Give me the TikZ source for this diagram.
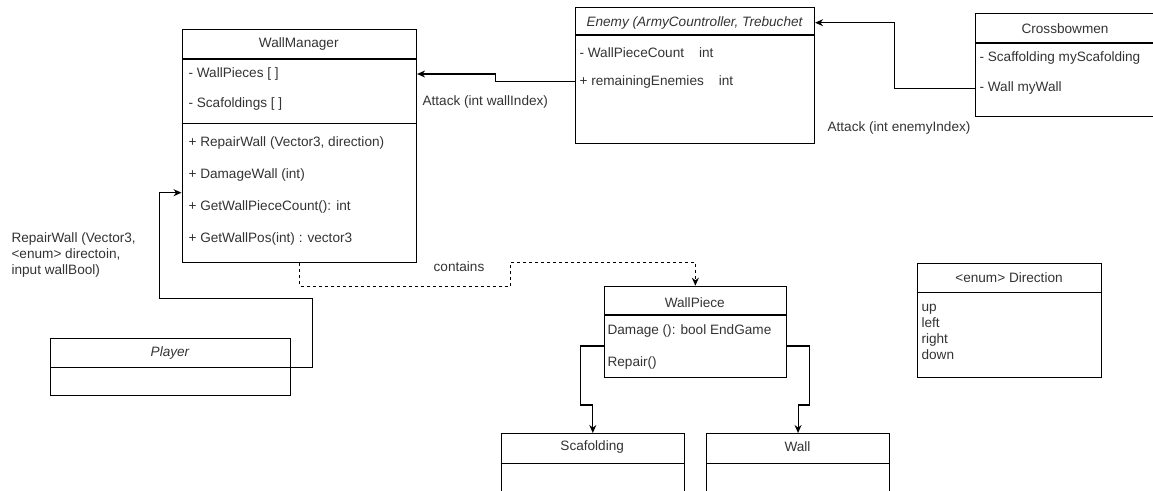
\documentclass[tikz,border=0pt]{standalone}
\usepackage{fontspec}
\setmainfont{Liberation Sans}
\usetikzlibrary{arrows.meta}

\begin{document}
\begin{tikzpicture}[x=1pt, y=-1pt, line width=1.1pt,
  font=\fontsize{13.6}{16}\selectfont,
  box/.style={draw, anchor=north west, inner sep=0pt},
  ttl/.style={inner sep=0pt, text=black!80},
  row/.style={anchor=west, inner sep=0pt, text=black!80},
  abs/.style={font=\fontsize{13.6}{16}\selectfont\itshape},
  arr/.style={-{Stealth[length=8pt, width=7pt]}},
  dep/.style={arr, dash pattern=on 3pt off 3pt}]
  \clip (0,0) rectangle (1153,490);

  % WallManager
  \node[box, minimum width=234.5, minimum height=233] (wm) at (181.5,29.3) {};
  \draw (181.5,59) -- (416,59);
  \draw (181.5,123.3) -- (416,123.3);
  \node[ttl] (wmName) at (298.75,44) {WallManager};
  \node[row] (wmPieces) at (188,74) {- WallPieces [ ]};
  \node[row] (wmScaf) at (188,104) {- Scafoldings [ ]};
  \node[row] (wmRepair) at (188,143) {+ RepairWall (Vector3, direction)};
  \node[row] (wmDamage) at (188,175) {+ DamageWall (int)};
  \node[row] (wmCount) at (188,207) {+ GetWallPieceCount(): int};
  \node[row] (wmPos) at (188,239) {+ GetWallPos(int) : vector3};

  % Enemy
  \node[box, minimum width=239, minimum height=136.6] (enemy) at (575,6.7) {};
  \draw (575,35) -- (814,35);
  \node[ttl, abs] (enName) at (694.5,22.7) {Enemy (ArmyCountroller, Trebuchet};
  \node[row] (enCount) at (579,52.7) {- WallPieceCount\hspace{15pt}int};
  \node[row] (enRemain) at (579,81.7) {+ remainingEnemies\hspace{15pt}int};

  % Crossbowmen
  \node[box, minimum width=180, minimum height=102.7] (cross) at (975,13.3) {};
  \draw (975,43) -- (1155,43);
  \node[ttl] (cbName) at (1065,28.3) {Crossbowmen};
  \node[row] (cbScaf) at (979,58.3) {- Scaffolding myScafolding};
  \node[row] (cbWall) at (979,88.3) {- Wall myWall};

  % Player
  \node[box, minimum width=240, minimum height=57.3] (player) at (50,337.7) {};
  \draw (50,367.7) -- (290,367.7);
  \node[ttl, abs] (plName) at (170,353) {Player};

  % WallPiece
  \node[box, minimum width=182.4, minimum height=91] (wpiece) at (603.6,285.7) {};
  \draw (603.6,315) -- (786,315);
  \node[ttl] (wpName) at (694.8,302.7) {WallPiece};
  \node[row] (wpDamage) at (607,331) {Damage (): bool EndGame};
  \node[row] (wpRepair) at (607,363.3) {Repair()};

  % Scafolding and Wall
  \node[box, minimum width=183.3, minimum height=70] (scaf) at (500.6,433) {};
  \draw (500.6,463.3) -- (683.9,463.3);
  \node[ttl] (scName) at (592.2,446.7) {Scafolding};
  \node[box, minimum width=183, minimum height=70] (wall) at (706,433) {};
  \draw (706,463.3) -- (889,463.3);
  \node[ttl] (wlName) at (797.5,446.7) {Wall};

  % Direction
  \node[box, minimum width=183.4, minimum height=114] (dir) at (917.3,262.7) {};
  \draw (917.3,292.3) -- (1100.7,292.3);
  \node[ttl] (dirName) at (1009,277.7) {<enum> Direction};
  \node[row, align=left] (dirItems) at (921,331.5) {up\\left\\right\\down};

  % labels
  \node[row] (lblWall) at (422,102) {Attack (int wallIndex)};
  \node[row] (lblEnemy) at (827,128.3) {Attack (int enemyIndex)};
  \node[ttl] (lblContains) at (459,267) {contains};
  \node[row, align=left] (lblRepair) at (11,255) {RepairWall (Vector3,\\<enum> directoin,\\input wallBool)};

  % connectors
  \draw[arr] (enemy.west |- enRemain) -| (495.5,74) -- (wm.east |- wmPieces);
  \draw[arr] (cross.west |- cbWall) -| (894.7,22.7) -- (enemy.east |- enName);
  \draw[arr] (player.east |- 0,367.7) -| (312.7,298.3) -| (159.3,192.7) -- (wm.west |- 0,192.7);
  \draw[dep] (wm.south) -- ++(0,22.7) -| (510.4,262.3) -| (wpiece.north);
  \draw[arr] (wpiece.west |- 0,346) -| (580.7,405) -| (scaf.north);
  \draw[arr] (wpiece.east |- 0,346) -| (809.3,405) -| (wall.north);
\end{tikzpicture}
\end{document}
